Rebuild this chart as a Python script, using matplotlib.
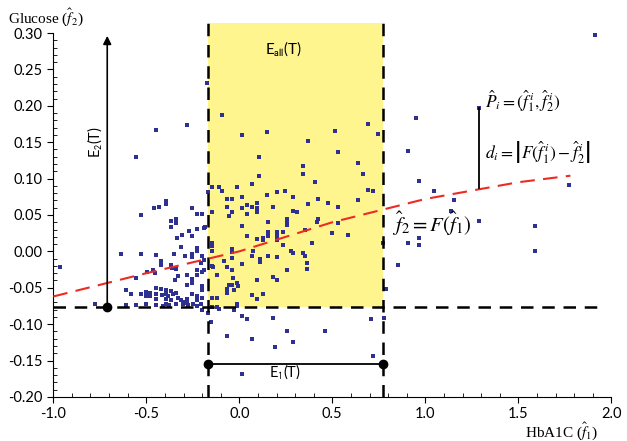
import numpy as np
import matplotlib
matplotlib.use("Agg")
import matplotlib.pyplot as plt
from matplotlib.patches import Rectangle
from matplotlib.ticker import MultipleLocator, FormatStrFormatter

plt.rcParams['font.family'] = ['Lato', 'DejaVu Sans']
plt.rcParams['mathtext.fontset'] = 'stix'
plt.rcParams['axes.unicode_minus'] = False

# scatter data: (HbA1C, Glucose)
points = [
    # left cluster, upper part
    (-0.447, 0.167), (-0.282, 0.173), (-0.554, 0.130), (-0.393, 0.069), (-0.393, 0.065),
    (-0.458, 0.060), (-0.433, 0.061), (-0.528, 0.050), (-0.255, 0.059), (-0.229, 0.052),
    (-0.366, 0.042), (-0.340, 0.044), (-0.340, 0.039), (-0.365, 0.034), (-0.225, 0.031),
    (-0.272, 0.028), (-0.309, 0.023), (-0.336, 0.019), (-0.255, 0.021), (-0.311, 0.006),
    (-0.229, 0.004), (-0.637, -0.003), (-0.528, -0.003), (-0.186, 0.033), (-0.962, -0.022),
    (-0.447, -0.005), (-0.350, -0.004), (-0.291, -0.007), (-0.255, -0.003), (-0.255, -0.008),
    (-0.229, 0.001), (-0.420, -0.013), (-0.420, -0.019), (-0.497, -0.029), (-0.462, -0.026),
    (-0.452, -0.030), (-0.368, -0.019), (-0.363, -0.023), (-0.340, -0.024), (-0.331, -0.034),
    (-0.345, -0.040), (-0.282, -0.032), (-0.282, -0.046), (-0.255, -0.038), (-0.255, -0.043),
    (-0.229, -0.026), (-0.229, -0.032), (-0.554, -0.036),
    # left cluster, lower part
    (-0.608, -0.053), (-0.581, -0.059), (-0.529, -0.059), (-0.501, -0.056), (-0.501, -0.061),
    (-0.479, -0.057), (-0.479, -0.062), (-0.447, -0.051), (-0.447, -0.058), (-0.447, -0.065),
    (-0.420, -0.052), (-0.417, -0.060), (-0.393, -0.053), (-0.393, -0.058), (-0.393, -0.065),
    (-0.381, -0.061), (-0.368, -0.055), (-0.368, -0.067), (-0.354, -0.059), (-0.340, -0.057),
    (-0.327, -0.064), (-0.315, -0.067), (-0.291, -0.069), (-0.282, -0.066), (-0.282, -0.071),
    (-0.255, -0.058), (-0.229, -0.062), (-0.229, -0.067), (-0.202, -0.053), (-0.202, -0.064),
    (-0.775, -0.072), (-0.608, -0.074), (-0.554, -0.074), (-0.501, -0.073), (-0.447, -0.074),
    (-0.410, -0.075), (-0.393, -0.072), (-0.377, -0.074), (-0.338, -0.072), (-0.302, -0.073),
    (-0.278, -0.074), (-0.250, -0.073), (-0.228, -0.075), (-0.205, -0.073),
    # near the left dashed line
    (-0.175, 0.231), (-0.190, 0.032), (-0.202, -0.007), (-0.190, -0.012), (-0.148, 0.011),
    (-0.148, 0.007), (-0.148, 0.000), (-0.202, -0.028), (-0.190, -0.025), (-0.202, -0.047),
    (-0.148, -0.020), (-0.121, -0.033), (-0.202, 0.052), (-0.166, 0.081), (-0.204, -0.016),
    (-0.168, -0.085), (-0.202, -0.081), (-0.151, -0.097),
    # inside the yellow box, upper
    (-0.094, 0.187), (0.013, 0.160), (0.150, 0.164), (0.107, 0.130), (0.107, 0.104),
    (0.067, 0.093), (-0.148, 0.089), (-0.107, 0.088), (-0.094, 0.083), (-0.014, 0.088),
    (0.204, 0.082), (0.245, 0.083), (0.150, 0.077), (0.287, 0.075), (-0.068, 0.072),
    (-0.041, 0.072), (0.013, 0.075), (-0.068, 0.061), (0.040, 0.064), (0.067, 0.061),
    (0.093, 0.067), (0.093, 0.059), (0.013, 0.060), (-0.041, 0.054), (-0.148, 0.054),
    (0.040, 0.051), (0.093, 0.054), (-0.054, 0.048), (0.179, 0.061), (0.287, 0.056),
    (0.312, 0.054), (0.258, 0.045),
    (0.693, 0.175), (0.746, 0.161), (0.517, 0.165), (0.369, 0.151), (0.531, 0.136),
    (0.639, 0.122), (0.666, 0.106), (0.340, 0.117), (0.340, 0.107), (0.408, 0.095),
    (0.693, 0.085), (0.719, 0.083), (0.422, 0.072), (0.369, 0.065), (0.476, 0.066),
    (0.531, 0.061), (0.639, 0.070), (0.422, 0.045), (0.419, 0.040), (0.528, 0.039),
    # inside the yellow box, middle and lower
    (0.013, 0.035), (0.153, 0.040), (0.258, 0.042), (0.258, 0.036), (0.040, 0.021),
    (0.126, 0.018), (0.126, 0.015), (0.153, 0.026), (0.153, 0.021), (0.204, 0.027),
    (0.204, 0.021), (0.204, 0.015), (0.233, 0.026), (0.236, 0.009), (0.093, 0.017),
    (-0.041, 0.003), (-0.041, -0.001), (0.072, 0.001), (0.276, 0.000), (0.287, -0.002),
    (-0.082, -0.013), (-0.041, -0.009), (0.013, -0.018), (0.067, -0.006), (0.111, -0.011),
    (0.111, -0.014), (0.153, -0.006), (0.204, -0.008), (-0.139, -0.021), (-0.068, -0.022),
    (-0.041, -0.026), (0.258, -0.026), (-0.032, -0.037), (0.097, -0.040), (0.179, -0.035),
    (0.204, -0.040), (-0.054, -0.046), (-0.068, -0.052), (-0.068, -0.055), (-0.027, -0.053),
    (-0.014, -0.044), (0.067, -0.060), (0.097, -0.065), (0.126, -0.058), (-0.148, -0.064),
    (-0.121, -0.064), (-0.065, -0.057), (-0.039, -0.046), (-0.007, -0.048),
    (0.353, 0.030), (0.501, 0.025), (0.585, 0.022), (0.392, 0.012), (0.340, -0.002),
    (0.353, -0.007), (0.365, -0.016), (0.365, -0.024), (0.773, 0.011), (0.787, -0.052),
    (-0.148, -0.076), (-0.120, -0.077), (-0.107, -0.079), (-0.027, -0.079), (-0.014, -0.075),
    (-0.013, -0.072), (0.853, -0.019),
    # below the threshold
    (-0.065, -0.116), (0.015, -0.089), (0.042, -0.093), (0.068, -0.120), (0.180, -0.092),
    (0.191, -0.132), (0.257, -0.110), (0.287, -0.124), (0.459, -0.109), (0.708, -0.093),
    (0.719, -0.144), (0.777, -0.092), (0.015, -0.169), (-0.028, -0.080),
    # right side
    (0.952, 0.183), (0.909, 0.138), (0.965, 0.097), (1.045, 0.083), (1.152, 0.071),
    (1.140, 0.056), (1.287, 0.197), (1.775, 0.091), (1.287, 0.042), (1.587, 0.035),
    (1.587, 0.001), (0.965, 0.019), (0.909, 0.011), (0.965, 0.009), (1.914, 0.298),
]
hba1c = np.array([p[0] for p in points])
glucose = np.array([p[1] for p in points])

# fitted curve F, read at a few x positions
curve_x = [-1.0, -0.5, 0.0, 0.5, 1.0, 1.5, 1.78]
curve_y = [-0.062, -0.030, 0.000, 0.040, 0.072, 0.095, 0.104]

# thresholds
e1_left, e1_right = -0.17, 0.77
e2_level = -0.076
e1_level = -0.155
box_top = 0.314
arrow_x = -0.71
p_i = (1.29, 0.197)
p_i_curve = 0.087

fig = plt.figure(figsize=(6.27, 4.41), dpi=100)
ax = fig.add_axes([0.085, 0.10, 0.89, 0.825])

ax.set_xlim(-1.0, 2.0)
ax.set_ylim(-0.20, 0.30)

# yellow region E_all(T)
ax.add_patch(Rectangle((e1_left, e2_level), e1_right - e1_left, box_top - e2_level,
                       facecolor='#FFF58F', edgecolor='none', clip_on=False, zorder=1))

ax.plot(hba1c, glucose, 's', color='#2E3192', markersize=2.3, markeredgewidth=0, zorder=3)

# dashed threshold lines
dash = dict(color='black', linewidth=1.8, dashes=(5, 3.5), zorder=4, clip_on=False)
ax.plot([e1_left, e1_left], [-0.20, box_top], **dash)
ax.plot([e1_right, e1_right], [-0.20, box_top], **dash)
ax.plot([-1.0, 1.95], [e2_level, e2_level], **dash)

# fitted curve
ax.plot(curve_x, curve_y, color='#EE2A24', linewidth=1.5, dashes=(7, 4), zorder=5)

sans_math = dict(math_fontfamily='stixsans')

# E1 span
ax.plot([e1_left, e1_right], [e1_level, e1_level], color='black', linewidth=1.3, zorder=5)
ax.plot([e1_left, e1_right], [e1_level, e1_level], 'o', color='black', markersize=6, zorder=6)
ax.text(0.245, -0.165, r'E$_{\mathrm{1}}$(T)', ha='center', va='center', fontsize=10.5, **sans_math)

# E2 arrow
ax.annotate('', xy=(arrow_x, 0.30), xytext=(arrow_x, e2_level),
            arrowprops=dict(arrowstyle='-|>', color='black', lw=1.2, mutation_scale=12),
            zorder=6)
ax.plot([arrow_x], [e2_level], 'o', color='black', markersize=6, zorder=6)
ax.text(-0.775, 0.150, r'E$_{\mathrm{2}}$(T)', rotation=90, ha='center', va='center',
        fontsize=10.5, **sans_math)

ax.text(0.235, 0.279, r'E$_{\mathrm{all}}$(T)', ha='center', va='center', fontsize=11, **sans_math)

# distance d_i
ax.plot([p_i[0], p_i[0]], [p_i_curve, p_i[1]], color='black', linewidth=1.3, zorder=6)
ax.text(1.32, 0.206, r'$\hat{P}_i = (\hat{f}_1^{\,i}, \hat{f}_2^{\,i})$', ha='left', va='center', fontsize=12.5)
ax.text(1.32, 0.137, r'$d_i = \left|F(\hat{f}_1^{\,i}) - \hat{f}_2^{\,i}\right|$', ha='left', va='center', fontsize=12.5)
ax.text(0.82, 0.038, r'$\hat{f}_2 = F(\hat{f}_1)$', ha='left', va='center', fontsize=15)

# axes styling
for s in ['top', 'right']:
    ax.spines[s].set_visible(False)
ax.xaxis.set_major_locator(MultipleLocator(0.5))
ax.xaxis.set_minor_locator(MultipleLocator(0.1))
ax.yaxis.set_major_locator(MultipleLocator(0.05))
ax.yaxis.set_minor_locator(MultipleLocator(0.01))
ax.xaxis.set_major_formatter(FormatStrFormatter('%.1f'))
ax.yaxis.set_major_formatter(FormatStrFormatter('%.2f'))
ax.tick_params(which='major', direction='out', length=4, labelsize=10.5)
ax.tick_params(which='minor', direction='in', length=3)

fig.text(0.012, 0.962, r'Glucose ($\hat{f}_2$)', family='Liberation Serif', fontsize=11, ha='left', va='center')
fig.text(0.955, 0.022, r'HbA1C ($\hat{f}_1$)', family='Liberation Serif', fontsize=11, ha='right', va='center')

fig.savefig('out.png', dpi=100)
